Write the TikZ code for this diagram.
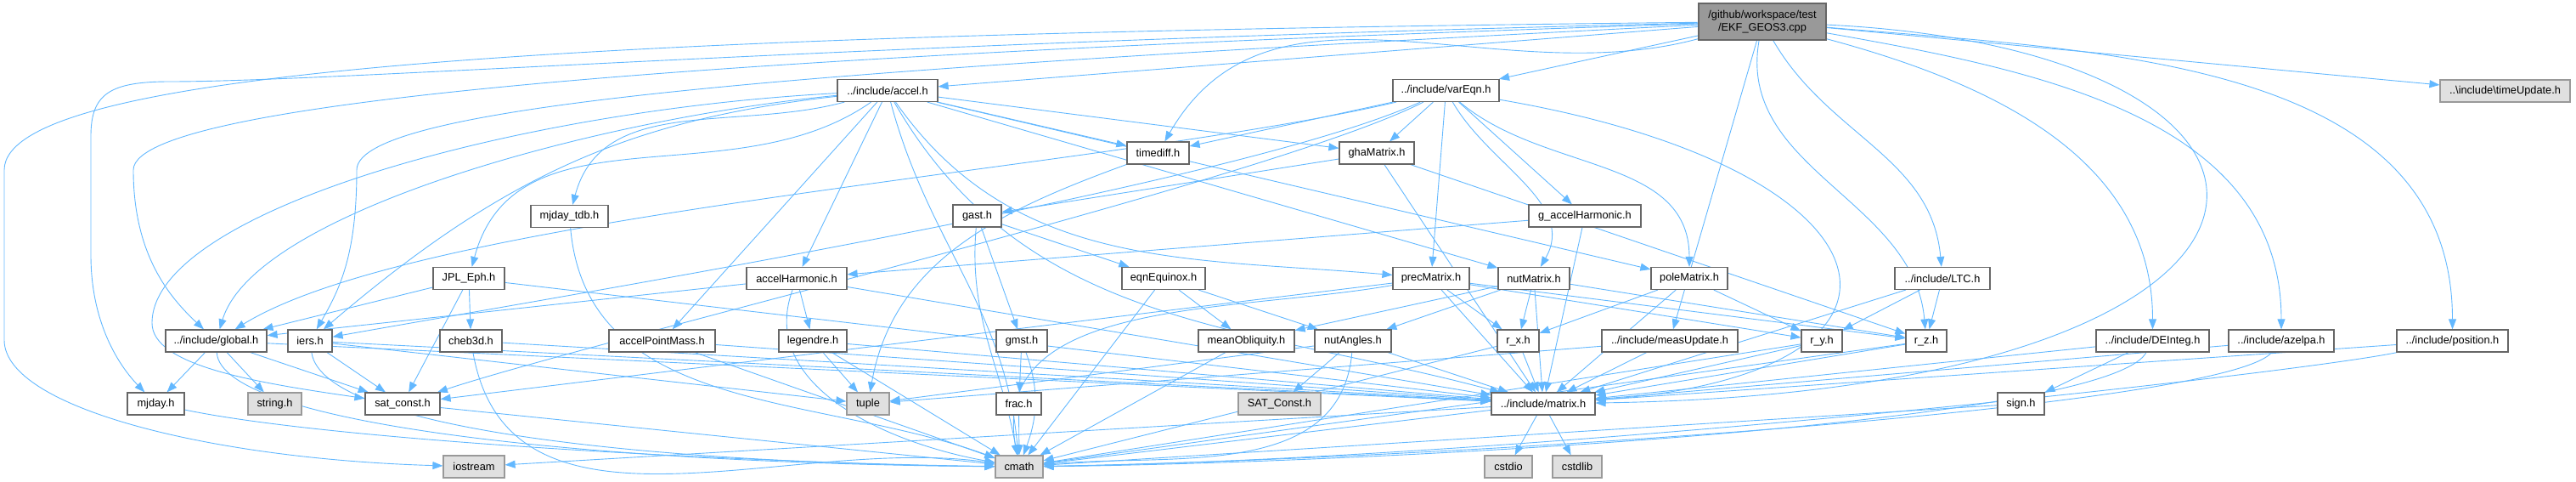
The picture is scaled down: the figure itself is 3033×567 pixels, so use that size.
\documentclass[tikz,border=0pt]{standalone}
\usepackage{fontspec}
\setmainfont{Liberation Sans}
\usetikzlibrary{arrows.meta,backgrounds}
\definecolor{depBlue}{HTML}{63B8FF}
\definecolor{boxGray}{HTML}{666666}
\definecolor{extGray}{HTML}{999999}
\definecolor{extFill}{HTML}{E0E0E0}
\begin{document}
\begin{tikzpicture}[
    x=1pt, y=-1pt,
    every node/.style={font=\fontsize{12.8}{14.5}\selectfont, inner sep=0pt, minimum height=26pt},
    hdr/.style={draw=boxGray, fill=white, line width=1.2pt},
    sys/.style={draw=extGray, fill=extFill, line width=1.2pt},
    dep/.style={-{Triangle[length=12pt,width=9pt]}, draw=depBlue, line width=0.9pt}
  ]
  \useasboundingbox (0,0) rectangle (3033,567);
  % Root file
  \node[draw=boxGray, fill=extGray, line width=1.2pt, minimum width=150, minimum height=43, align=center]
    (root) at (2075,25.5) {/github/workspace/test\\/EKF\_GEOS3.cpp};
  % Row 1
  \node[hdr, minimum width=118] (accel) at (1045,106.5) {../include/accel.h};
  \node[hdr, minimum width=125] (vareqn) at (1702.5,106.5) {../include/varEqn.h};
  \node[sys, minimum width=153] (tupd) at (2949.5,107) {..\textbackslash include\textbackslash timeUpdate.h};
  % Row 2
  \node[hdr, minimum width=73] (tdiff) at (1363.5,180) {timediff.h};
  \node[hdr, minimum width=88] (gha) at (1621,180) {ghaMatrix.h};
  % Row 3
  \node[hdr, minimum width=91] (mjdtdb) at (670.5,254.5) {mjday\_tdb.h};
  \node[hdr, minimum width=57] (gast) at (1150.5,254) {gast.h};
  \node[hdr, minimum width=132] (gacc) at (1866,254) {g\_accelHarmonic.h};
  % Row 4
  \node[hdr, minimum width=84] (jpl) at (552,327.5) {JPL\_Eph.h};
  \node[hdr, minimum width=118] (acch) at (938,327.5) {accelHarmonic.h};
  \node[hdr, minimum width=98] (eqeq) at (1370,327.5) {eqnEquinox.h};
  \node[hdr, minimum width=90] (prec) at (1685,327.5) {precMatrix.h};
  \node[hdr, minimum width=84] (nut) at (1806,327.5) {nutMatrix.h};
  \node[hdr, minimum width=90] (pole) at (1989,327.5) {poleMatrix.h};
  \node[hdr, minimum width=112] (ltc) at (2287,327.5) {../include/LTC.h};
  % Row 5
  \node[hdr, minimum width=119] (global) at (254.5,401) {../include/global.h};
  \node[hdr, minimum width=52] (iers) at (365,401) {iers.h};
  \node[hdr, minimum width=73] (cheb) at (554.5,401) {cheb3d.h};
  \node[hdr, minimum width=125] (accpm) at (779.5,401) {accelPointMass.h};
  \node[hdr, minimum width=80] (leg) at (957,401) {legendre.h};
  \node[hdr, minimum width=60] (gmst) at (1203,401) {gmst.h};
  \node[hdr, minimum width=113] (mobl) at (1467.5,401) {meanObliquity.h};
  \node[hdr, minimum width=90] (nutang) at (1593,401) {nutAngles.h};
  \node[hdr, minimum width=49] (rx) at (1787.5,401) {r\_x.h};
  \node[hdr, minimum width=160] (measupd) at (1966,401) {../include/measUpdate.h};
  \node[hdr, minimum width=48] (ry) at (2145,401) {r\_y.h};
  \node[hdr, minimum width=48] (rz) at (2268,401) {r\_z.h};
  \node[hdr, minimum width=133] (deint) at (2534.5,401) {../include/DEInteg.h};
  \node[hdr, minimum width=124] (azelpa) at (2686,401) {../include/azelpa.h};
  \node[hdr, minimum width=131] (posn) at (2887.5,401) {../include/position.h};
  % Row 6
  \node[hdr, minimum width=67] (mjday) at (183.5,475) {mjday.h};
  \node[sys, minimum width=63] (string) at (323.5,475) {string.h};
  \node[hdr, minimum width=88] (satc) at (474,475) {sat\_const.h};
  \node[sys, minimum width=50] (tuple) at (1022,475) {tuple};
  \node[hdr, minimum width=53] (frac) at (1199.5,475) {frac.h};
  \node[sys, minimum width=97] (sconst) at (1506.5,475) {SAT\_Const.h};
  \node[hdr, minimum width=122] (matrix) at (1817,475) {../include/matrix.h};
  \node[hdr, minimum width=55] (sign) at (2379.5,475) {sign.h};
  % Row 7
  \node[sys, minimum width=72] (iostream) at (558,549) {iostream};
  \node[sys, minimum width=56] (cmath) at (1200,549) {cmath};
  \node[sys, minimum width=56] (cstdio) at (1776,549) {cstdio};
  \node[sys, minimum width=58] (cstdlib) at (1857,549) {cstdlib};

  \begin{scope}[on background layer]
  % Includes of the root file
  \draw[dep] (root) -- (accel);
  \draw[dep] (root) -- (vareqn);
  \draw[dep] (root) -- (tupd);
  \draw[dep] (root) to[out=195,in=60] (tdiff);
  \draw[dep] (root) -- (measupd);
  \draw[dep] (root) to[out=-100,in=95] (rz);
  \draw[dep] (root) to[out=-60,in=95] (ltc);
  \draw[dep] (root) to[out=-15,in=90] (deint);
  \draw[dep] (root) to[out=-10,in=90] (azelpa);
  \draw[dep] (root) to[out=-5,in=90] (posn);
  \draw[dep] (root) .. controls (2790,60) and (2780,460) .. (matrix);
  \draw[dep] (root) .. controls (700,40) and (5,80) .. (5,200) -- (5,400)
    .. controls (5,480) and (250,540) .. (iostream);
  \draw[dep] (root) .. controls (1000,50) and (400,96) .. (200,96)
    .. controls (130,96) and (107,110) .. (107,160) -- (107,300)
    .. controls (107,380) and (140,430) .. (mjday);
  \draw[dep] (root) .. controls (1000,60) and (157,110) .. (157,200)
    .. controls (157,300) and (200,350) .. (global);
  \draw[dep] (root) .. controls (1000,80) and (420,120) .. (420,200)
    .. controls (420,300) and (400,340) .. (iers);
  % Includes of accel.h
  \draw[dep] (accel) .. controls (700,140) and (300,250) .. (global);
  \draw[dep] (accel) .. controls (750,140) and (600,200) .. (iers);
  \draw[dep] (accel) to[out=195,in=75] (mjdtdb);
  \draw[dep] (accel) to[out=215,in=75] (jpl);
  \draw[dep] (accel) .. controls (600,130) and (179,250) .. (179,380)
    .. controls (179,430) and (300,450) .. (satc);
  \draw[dep] (accel) -- (acch);
  \draw[dep] (accel) -- (accpm);
  \draw[dep] (accel) -- (tdiff);
  \draw[dep] (accel) -- (gha);
  \draw[dep] (accel) to[out=-55,in=175] (prec);
  \draw[dep] (accel) -- (nut);
  \draw[dep] (accel) -- (pole);
  \draw[dep] (accel) to[out=-60,in=165] (matrix);
  \draw[dep] (accel) to[out=-75,in=95] (cmath);
  % Includes of varEqn.h
  \draw[dep] (vareqn) -- (tdiff);
  \draw[dep] (vareqn) -- (gha);
  \draw[dep] (vareqn) -- (gacc);
  \draw[dep] (vareqn) -- (prec);
  \draw[dep] (vareqn) to[out=-60,in=60] (nut);
  \draw[dep] (vareqn) to[out=-40,in=90] (pole);
  \draw[dep] (vareqn) .. controls (1300,200) and (500,250) .. (global);
  \draw[dep] (vareqn) .. controls (1450,220) and (650,350) .. (iers);
  \draw[dep] (vareqn) .. controls (1500,210) and (700,400) .. (satc);
  \draw[dep] (vareqn) .. controls (2250,200) and (2300,440) .. (matrix);
  % Middle headers
  \draw[dep] (gha) -- (gast);
  \draw[dep] (gha) -- (rz);
  \draw[dep] (gha) -- (matrix);
  \draw[dep] (gast) -- (gmst);
  \draw[dep] (gast) -- (eqeq);
  \draw[dep] (gast) to[out=-95,in=100] (cmath);
  \draw[dep] (gacc) -- (acch);
  \draw[dep] (gacc) -- (matrix);
  \draw[dep] (tdiff) to[out=200,in=80] (tuple);
  \draw[dep] (mjdtdb) to[out=-85,in=160] (cmath);
  \draw[dep] (jpl) -- (global);
  \draw[dep] (jpl) -- (cheb);
  \draw[dep] (jpl) -- (satc);
  \draw[dep] (jpl) -- (matrix);
  \draw[dep] (acch) -- (global);
  \draw[dep] (acch) -- (leg);
  \draw[dep] (acch) -- (matrix);
  \draw[dep] (acch) to[out=-110,in=170] (cmath);
  \draw[dep] (eqeq) -- (mobl);
  \draw[dep] (eqeq) -- (nutang);
  \draw[dep] (eqeq) -- (cmath);
  \draw[dep] (prec) -- (rx);
  \draw[dep] (prec) -- (ry);
  \draw[dep] (prec) -- (rz);
  \draw[dep] (prec) -- (matrix);
  \draw[dep] (prec) -- (satc);
  \draw[dep] (prec) to[out=190,in=100] (cmath);
  \draw[dep] (nut) -- (mobl);
  \draw[dep] (nut) -- (nutang);
  \draw[dep] (nut) -- (rx);
  \draw[dep] (nut) -- (rz);
  \draw[dep] (nut) -- (matrix);
  \draw[dep] (pole) -- (rx);
  \draw[dep] (pole) -- (ry);
  \draw[dep] (pole) -- (matrix);
  \draw[dep] (ltc) -- (ry);
  \draw[dep] (ltc) -- (rz);
  \draw[dep] (ltc) -- (matrix);
  % Lower headers
  \draw[dep] (global) -- (mjday);
  \draw[dep] (global) -- (string);
  \draw[dep] (global) -- (satc);
  \draw[dep] (global) -- (matrix);
  \draw[dep] (global) .. controls (260,500) and (700,545) .. (cmath);
  \draw[dep] (iers) -- (satc);
  \draw[dep] (iers) -- (tuple);
  \draw[dep] (iers) -- (matrix);
  \draw[dep] (iers) .. controls (380,510) and (800,545) .. (cmath);
  \draw[dep] (cheb) to[out=-80,in=172] (cmath);
  \draw[dep] (cheb) -- (matrix);
  \draw[dep] (accpm) -- (matrix);
  \draw[dep] (accpm) -- (cmath);
  \draw[dep] (leg) -- (tuple);
  \draw[dep] (leg) -- (matrix);
  \draw[dep] (leg) -- (cmath);
  \draw[dep] (gmst) -- (frac);
  \draw[dep] (gmst) to[out=-70,in=70] (cmath);
  \draw[dep] (mobl) -- (cmath);
  \draw[dep] (nutang) -- (sconst);
  \draw[dep] (nutang) -- (tuple);
  \draw[dep] (nutang) -- (matrix);
  \draw[dep] (nutang) to[out=-95,in=5] (cmath);
  \draw[dep] (rx) -- (matrix);
  \draw[dep] (rx) -- (cmath);
  \draw[dep] (ry) -- (matrix);
  \draw[dep] (ry) -- (cmath);
  \draw[dep] (rz) -- (matrix);
  \draw[dep] (rz) -- (cmath);
  \draw[dep] (measupd) -- (matrix);
  \draw[dep] (measupd) -- (tuple);
  \draw[dep] (deint) -- (sign);
  \draw[dep] (deint) -- (matrix);
  \draw[dep] (deint) .. controls (2480,500) and (1600,545) .. (cmath);
  \draw[dep] (azelpa) -- (matrix);
  \draw[dep] (azelpa) .. controls (2620,480) and (1700,540) .. (cmath);
  \draw[dep] (posn) -- (matrix);
  \draw[dep] (posn) .. controls (2700,440) and (1800,540) .. (cmath);
  \draw[dep] (sign) -- (cmath);
  \draw[dep] (frac) -- (cmath);
  \draw[dep] (mjday) .. controls (400,520) and (900,545) .. (cmath);
  \draw[dep] (satc) -- (cmath);
  % matrix.h
  \draw[dep] (matrix) -- (cstdio);
  \draw[dep] (matrix) -- (cstdlib);
  \draw[dep] (matrix) -- (cmath);
  \draw[dep] (matrix) -- (iostream);
  \end{scope}
\end{tikzpicture}
\end{document}
